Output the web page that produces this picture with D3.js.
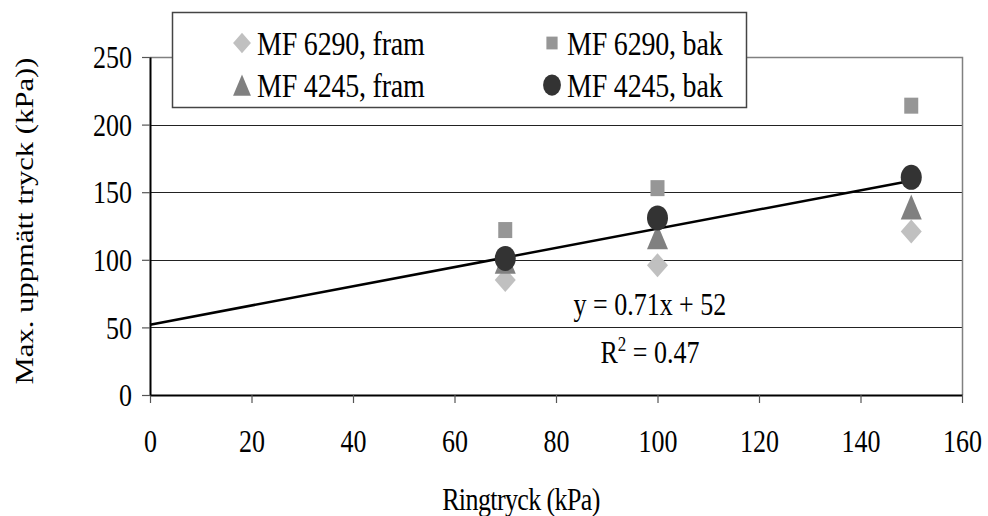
<!DOCTYPE html>
<html>
<head>
<meta charset="utf-8">
<script src="https://cdn.jsdelivr.net/npm/d3@7"></script>
<style>
	body { margin: 0; background: #fff; }
	svg { display: block; font-family: "Liberation Serif", "DejaVu Serif", serif; }
</style>
</head>
<body>
<svg class="chart" width="988" height="516"></svg>
<script>
(function() {

	// DATA
	var ringtryck = [70, 100, 150];
	var mf6290Fram = [85, 96, 121];
	var mf6290Bak = [122, 153, 214];
	var mf4245Fram = [99, 117, 139];
	var mf4245Bak = [101, 131, 161];
	var xTicks = [0, 20, 40, 60, 80, 100, 120, 140, 160];
	var yTicks = [0, 50, 100, 150, 200, 250];
	var trend = { slope: 0.71, intercept: 52, from: 0, to: 150 };

	var series = [
		{ name: 'MF 6290, fram', values: mf6290Fram, shape: 'diamond', color: '#c0c0c0' },
		{ name: 'MF 6290, bak', values: mf6290Bak, shape: 'square', color: '#969696' },
		{ name: 'MF 4245, fram', values: mf4245Fram, shape: 'triangle', color: '#808080' },
		{ name: 'MF 4245, bak', values: mf4245Bak, shape: 'circle', color: '#333333' }
	];

	// the original picture is a bit taller than wide, text gets stretched too
	var stretch = 1.18;
	var font = '"Liberation Serif", serif';

	var margin = { top: 57, right: 26, bottom: 121, left: 150 };
	var W = 988, H = 516;
	var width = W - margin.left - margin.right;
	var height = H - margin.top - margin.bottom;

	var svg = d3.select('.chart');
	var g = svg.append('g').attr('transform', 'translate(' + margin.left + ',' + margin.top + ')');

	var x = d3.scaleLinear().domain([0, 160]).range([0, width]);
	var y = d3.scaleLinear().domain([0, 250]).range([height, 0]);

	function label(parent, px, py, size) {
		return parent.append('text')
			.attr('transform', 'translate(' + px + ',' + py + ')scale(1,' + stretch + ')')
			.attr('font-family', font)
			.attr('font-size', size);
	}

	// gridlines
	g.selectAll('.grid')
		.data(yTicks.filter(function(d) { return d > 0 && d < 250; }))
		.enter().append('line')
		.attr('class', 'grid')
		.attr('x1', 0).attr('x2', width)
		.attr('y1', function(d) { return Math.round(y(d)) + 0.5; })
		.attr('y2', function(d) { return Math.round(y(d)) + 0.5; })
		.attr('stroke', '#222').attr('stroke-width', 1);

	// plot border top / right
	g.append('path')
		.attr('d', 'M0,0.5H' + (width + 0.5) + 'V' + height)
		.attr('fill', 'none').attr('stroke', '#808080').attr('stroke-width', 1.5);

	// axes
	var axisX = d3.axisBottom(x).tickValues(xTicks).tickSizeInner(8).tickSizeOuter(0);
	var axisY = d3.axisLeft(y).tickValues(yTicks).tickSizeInner(8).tickSizeOuter(0).tickPadding(10);

	var gx = g.append('g').attr('transform', 'translate(0,' + height + ')').call(axisX);
	var gy = g.append('g').call(axisY);
	[gx, gy].forEach(function(a) {
		a.attr('font-family', font).attr('font-size', 26);
		a.select('.domain').attr('stroke', '#000').attr('stroke-width', 2);
		a.selectAll('.tick line').attr('stroke', '#555').attr('stroke-width', 1.2);
		a.selectAll('.tick text').attr('fill', '#000').attr('transform', 'scale(1,' + stretch + ')');
	});
	gx.selectAll('.tick text').attr('y', 48).attr('dy', 0);
	gy.selectAll('.tick text').attr('dy', '0.35em');

	// trend line
	g.append('line')
		.attr('x1', x(trend.from)).attr('y1', y(trend.intercept + trend.slope * trend.from))
		.attr('x2', x(trend.to)).attr('y2', y(trend.intercept + trend.slope * trend.to))
		.attr('stroke', '#000').attr('stroke-width', 2.5);

	function marker(sel, shape, color) {
		if (shape === 'diamond') {
			sel.append('path').attr('d', 'M0,-12L10.5,0L0,12L-10.5,0Z').attr('fill', color);
		} else if (shape === 'square') {
			sel.append('rect').attr('x', -7).attr('y', -8).attr('width', 14).attr('height', 16).attr('fill', color);
		} else if (shape === 'triangle') {
			sel.append('path').attr('d', 'M0,-12.5L10.5,12.5L-10.5,12.5Z').attr('fill', color);
		} else {
			sel.append('ellipse').attr('rx', 10.5).attr('ry', 12.5).attr('fill', color);
		}
	}

	// points
	series.forEach(function(s) {
		var pts = g.append('g').selectAll('.pt')
			.data(s.values.map(function(v, i) { return { x: ringtryck[i], y: v }; }))
			.enter().append('g')
			.attr('transform', function(d) { return 'translate(' + x(d.x) + ',' + y(d.y) + ')'; });
		marker(pts, s.shape, s.color);
	});

	// equation
	label(g, x(98.5), y(59.5), 26)
		.attr('text-anchor', 'middle')
		.text('y = 0.71x + 52');
	var r2 = label(g, x(98.5), y(24), 26)
		.attr('text-anchor', 'middle');
	r2.append('tspan').text('R');
	r2.append('tspan').attr('font-size', 17).attr('dy', -10).text('2');
	r2.append('tspan').attr('dy', 10).text(' = 0.47');

	// legend
	var legend = svg.append('g').attr('transform', 'translate(172,12)');
	legend.append('rect')
		.attr('x', 0.5).attr('y', 0.5).attr('width', 574).attr('height', 95)
		.attr('fill', '#fff').attr('stroke', '#444').attr('stroke-width', 1.5);
	var items = legend.selectAll('.item')
		.data(series)
		.enter().append('g')
		.attr('transform', function(d, i) {
			return 'translate(' + (i % 2 === 0 ? 70 : 380) + ',' + (i < 2 ? 31 : 73) + ')';
		});
	items.each(function(d) {
		var it = d3.select(this);
		var m = it.append('g').attr('transform', d.shape === 'square' ? 'scale(0.8)' : 'scale(0.85)');
		marker(m, d.shape, d.color);
		label(it, 15, 0, 28)
			.attr('dy', '0.35em')
			.attr('letter-spacing', -0.2)
			.text(d.name);
	});

	// axis titles
	label(svg, 521, 510, 26)
		.attr('text-anchor', 'middle').attr('letter-spacing', -0.6)
		.text('Ringtryck (kPa)');
	svg.append('text')
		.attr('transform', 'translate(33,221)rotate(-90)scale(' + stretch + ',1)')
		.attr('text-anchor', 'middle').attr('font-family', font).attr('font-size', 26)
		.text('Max. uppmätt tryck (kPa))');

})();
</script>
</body>
</html>
